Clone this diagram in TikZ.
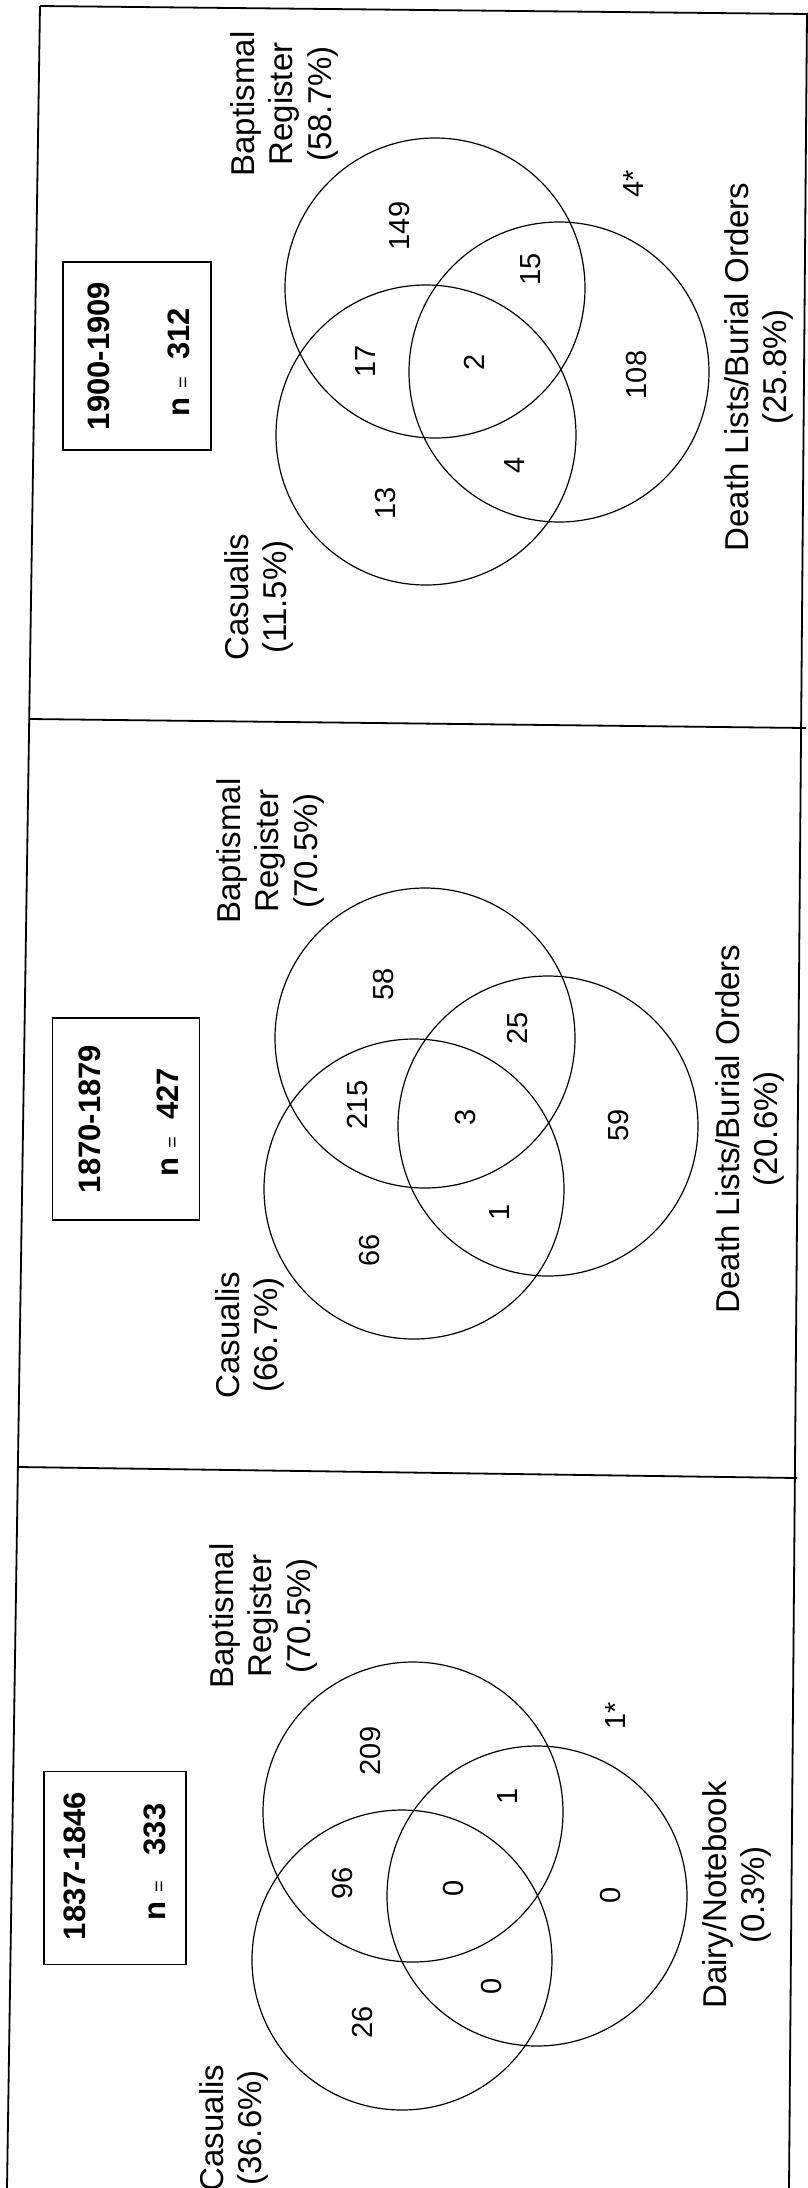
\documentclass[tikz,border=0pt]{standalone}
\usepackage{fontspec}
\setmainfont{Liberation Sans}
\begin{document}
\begin{tikzpicture}[x=1pt,y=-1pt,
  lbl/.style={rotate=90, align=center, font=\fontsize{33}{38.5}\selectfont, inner sep=0pt},
  num/.style={rotate=90, font=\fontsize{29}{34}\selectfont, inner sep=0pt},
  boxtxt/.style={rotate=90, font=\fontsize{31}{36}\selectfont\bfseries, inner sep=0pt},
  venn/.style={draw, line width=1.2pt, circle, minimum size=300pt, inner sep=0pt},
  rule/.style={line width=1.8pt},
  yearbox/.style={draw, line width=1.5pt, rectangle, inner sep=0pt}]
\useasboundingbox (0,0) rectangle (808,2188);
% frame
\coordinate (tl) at (40,6);
\coordinate (tr) at (808,14);
\coordinate (bl) at (7,2188);
\coordinate (rt) at (807,14);
\coordinate (br) at (789,2188);
\coordinate (d1l) at (30,719);
\coordinate (d1r) at (806,728);
\coordinate (d2l) at (19,1467);
\coordinate (d2r) at (797,1478);
\draw[rule] (tl) -- (tr);
\draw[rule] (tl) -- (bl);
\draw[rule] (rt) -- (br);
\draw[rule] (d1l) -- (d1r);
\draw[rule] (d2l) -- (d2r);

% ---------- panel 1: 1900-1909 ----------
\node[yearbox, minimum width=148pt, minimum height=188pt] (box1) at (137,356) {};
\node[boxtxt] (y1) at (99,356) {1900-1909};
\node[boxtxt] (n1) at (179,362) {n\ {\normalfont\fontsize{20}{20}\selectfont =}\ \ 312};
\node[venn] (B1) at (435,288) {};
\node[venn] (C1) at (426,435) {};
\node[venn] (D1) at (559,372) {};
\node[lbl] (lb1) at (284,104) {Baptismal\\Register\\(58.7\%)};
\node[lbl] (lc1) at (259,597) {Casualis\\(11.5\%)};
\node[lbl] (ld1) at (759,367) {Death Lists/Burial Orders\\(25.8\%)};
\node[num] (s1) at (634,184) {4*};
\node[num] (a1) at (400,226) {149};
\node[num] (a2) at (531,269) {15};
\node[num] (a3) at (366,361) {17};
\node[num] (a4) at (474,362) {2};
\node[num] (a5) at (637,375) {108};
\node[num] (a6) at (515,465) {4};
\node[num] (a7) at (386,503) {13};

% ---------- panel 2: 1870-1879 ----------
\node[yearbox, minimum width=147pt, minimum height=202pt] (box2) at (126,1119) {};
\node[boxtxt] (y2) at (90,1119) {1870-1879};
\node[boxtxt] (n2) at (168,1122) {n\ {\normalfont\fontsize{20}{20}\selectfont =}\ \ 427};
\node[venn] (B2) at (425,1038) {};
\node[venn] (C2) at (414,1189) {};
\node[venn] (D2) at (548,1126) {};
\node[lbl] (lb2) at (270,851) {Baptismal\\Register\\(70.5\%)};
\node[lbl] (lc2) at (250,1335) {Casualis\\(66.7\%)};
\node[lbl] (ld2) at (750,1129) {Death Lists/Burial Orders\\(20.6\%)};
\node[num] (b1) at (384,984) {58};
\node[num] (b2) at (518,1028) {25};
\node[num] (b3) at (358,1105) {215};
\node[num] (b4) at (466,1117) {3};
\node[num] (b5) at (619,1125) {59};
\node[num] (b6) at (500,1212) {1};
\node[num] (b7) at (370,1250) {66};

% ---------- panel 3: 1837-1846 ----------
\node[yearbox, minimum width=142pt, minimum height=193pt] (box3) at (115,1868) {};
\node[boxtxt] (y3) at (75,1866) {1837-1846};
\node[boxtxt] (n3) at (155,1862) {n\ {\normalfont\fontsize{20}{20}\selectfont =}\ \ \ 333};
\node[venn] (B3) at (413,1812) {};
\node[venn] (C3) at (402,1960) {};
\node[venn] (D3) at (537,1896) {};
\node[lbl] (lb3) at (263,1616) {Baptismal\\Register\\(70.5\%)};
\node[lbl] (lc3) at (234,2128) {Casualis\\(36.6\%)};
\node[lbl] (ld3) at (737,1895) {Dairy/Notebook\\(0.3\%)};
\node[num] (s3) at (616,1716) {1*};
\node[num] (c1) at (371,1751) {209};
\node[num] (c2) at (508,1796) {1};
\node[num] (c3) at (343,1883) {96};
\node[num] (c4) at (454,1888) {0};
\node[num] (c5) at (611,1895) {0};
\node[num] (c6) at (492,1986) {0};
\node[num] (c7) at (363,2022) {26};
\end{tikzpicture}
\end{document}
